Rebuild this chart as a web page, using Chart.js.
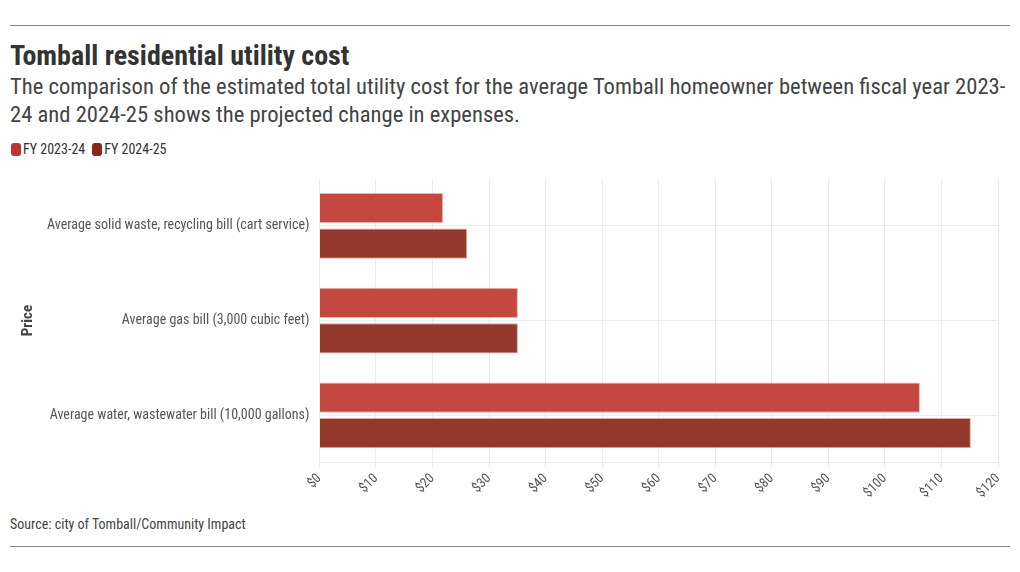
<!DOCTYPE html>
<html><head><meta charset="utf-8">
<script src="https://cdn.jsdelivr.net/npm/chart.js@4.4.1/dist/chart.umd.min.js"></script>
<style>
html,body{margin:0;padding:0;background:#fff;width:1020px;height:572px;overflow:hidden;}
body{font-family:"Roboto Condensed","Liberation Sans Narrow","DejaVu Sans Condensed",sans-serif;color:#333;position:relative;}
.rule{position:absolute;left:10px;width:1000px;height:1px;background:#888;}
#title{position:absolute;left:10px;top:39px;font-size:28px;font-weight:bold;color:#333;}
#sub{position:absolute;left:10px;top:73px;width:1000px;font-size:22.6px;line-height:28px;color:#444;}
#legend{position:absolute;left:11px;top:141px;font-size:14px;color:#333;display:flex;}
#legend .it{display:flex;align-items:center;margin-right:7px;}
#legend .sw{width:10px;height:13px;border-radius:3px;margin-right:2px;}
#src{position:absolute;left:10px;top:516px;font-size:14px;color:#444;}
#wrap{position:absolute;left:0;top:160px;}
canvas{display:block;}
</style></head><body>
<div class="rule" style="top:25px"></div>
<div id="title">Tomball residential utility cost</div>
<div id="sub">The comparison of the estimated total utility cost for the average Tomball homeowner between fiscal year 2023-24 and 2024-25 shows the projected change in expenses.</div>
<div id="legend"></div>
<div id="wrap"><canvas id="c" width="1020" height="344"></canvas></div>
<div id="src">Source: city of Tomball/Community Impact</div>
<div class="rule" style="top:546px"></div>
<script>
const categories = ["Average solid waste, recycling bill (cart service)","Average gas bill (3,000 cubic feet)","Average water, wastewater bill (10,000 gallons)"];
const seriesNames = ["FY 2023-24","FY 2024-25"];
const legendColors = ["#c03333","#8c2419"];
const fy2324 = [21.88, 35.1, 106.2];
const fy2425 = [26.13, 35.1, 115.2];
const xTicks = [0,10,20,30,40,50,60,70,80,90,100,110,120];

const lg = document.getElementById('legend');
seriesNames.forEach((n, i) => {
  const it = document.createElement('div'); it.className = 'it';
  const sw = document.createElement('div'); sw.className = 'sw'; sw.style.background = legendColors[i];
  const tx = document.createElement('span'); tx.textContent = n;
  it.appendChild(sw); it.appendChild(tx); lg.appendChild(it);
});

const FONT = '"Roboto Condensed","Liberation Sans Narrow","DejaVu Sans Condensed",sans-serif';
Chart.defaults.font.family = FONT;
Chart.defaults.color = '#555';
new Chart(document.getElementById('c'), {
  type: 'bar',
  data: {
    labels: categories,
    datasets: [
      {label: seriesNames[0], data: fy2324, backgroundColor: 'rgb(196,72,64)', borderColor: 'rgba(240,170,165,0.9)', borderWidth: 1, categoryPercentage: 0.75, barPercentage: 0.85},
      {label: seriesNames[1], data: fy2425, backgroundColor: 'rgb(148,55,45)', borderColor: 'rgba(225,160,150,0.9)', borderWidth: 1, categoryPercentage: 0.75, barPercentage: 0.85}
    ]
  },
  options: {
    indexAxis: 'y',
    responsive: false,
    animation: false,
    devicePixelRatio: 1,
    layout: {padding: {left: 19, right: 22, top: 18, bottom: 0}},
    plugins: {
      legend: {display: false},
      tooltip: {enabled: false}
    },
    scales: {
      x: {
        min: 0, max: 120,
        afterBuildTicks: (s) => { s.ticks = xTicks.map(v => ({value: v})); },
        ticks: {callback: (v) => '$' + v, autoSkip: false, maxRotation: 45, minRotation: 45, font: {size: 13.5}, color: '#555'},
        grid: {color: '#ececec', drawTicks: true, tickLength: 5},
        border: {display: true, color: '#ececec'}
      },
      y: {
        grid: {offset: false, color: '#ececec', drawTicks: false},
        border: {display: false},
        ticks: {font: {size: 14}, color: '#555', padding: 10},
        title: {display: true, text: 'Price', font: {size: 15, weight: 'bold'}, color: '#444', padding: {top: 0, bottom: 0}}
      }
    }
  }
});
</script>
</body></html>
